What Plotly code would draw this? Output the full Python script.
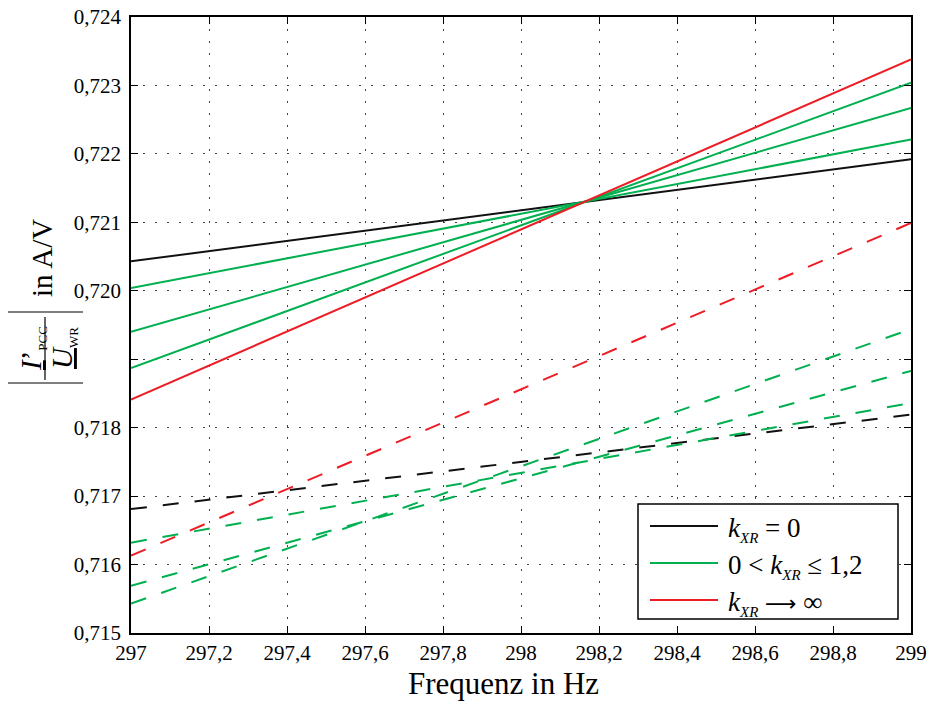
import plotly.graph_objects as go

# Frequency span (Hz)
freq = [297.0, 299.0]

# Solid curves |I'_PCC / U_WR| in A/V at the two span ends
solid_black = [0.72043, 0.72192]
solid_green = [[0.72004, 0.72221], [0.71940, 0.72267], [0.71887, 0.72304]]
solid_red = [0.71841, 0.72338]

# Dashed curves
dash_black = [0.71681, 0.71819]
dash_green = [[0.71632, 0.71836], [0.71569, 0.71883], [0.71543, 0.71944]]
dash_red = [0.71613, 0.72099]

x_ticks = [297.0, 297.2, 297.4, 297.6, 297.8, 298.0, 298.2, 298.4, 298.6, 298.8, 299.0]
x_tick_labels = ["297", "297,2", "297,4", "297,6", "297,8", "298", "298,2", "298,4", "298,6", "298,8", "299"]
y_ticks = [0.715, 0.716, 0.717, 0.718, 0.719, 0.720, 0.721, 0.722, 0.723, 0.724]
y_tick_labels = ["0,715", "0,716", "0,717", "0,718", "", "0,720", "0,721", "0,722", "0,723", "0,724"]

SUB = "<sub><i><span style='font-size:15px'>XR</span></i></sub>"
legend_labels = [
    "<i>k</i>" + SUB + " = 0",
    "0 &lt; <i>k</i>" + SUB + " ≤ 1,2",
    "<i>k</i>" + SUB + " <span style='font-family:DejaVu Sans;font-size:22px'>⟶</span> ∞",
]

BLACK = "#111111"
GREEN = "#00B050"
RED = "#EE1C25"
FONT = "Liberation Serif"
DASH = "16px,16px"

W, H = 933, 704
ML, MR, MT, MB = 131, 22, 17, 71
PW, PH = W - ML - MR, H - MT - MB


def px_x(p):
    return (p - ML) / PW


def px_y(p):
    return (H - MB - p) / PH


fig = go.Figure()


def add_line(y, color, dash=None):
    fig.add_trace(go.Scatter(
        x=freq, y=y, mode="lines", showlegend=False, hoverinfo="skip",
        line=dict(color=color, width=2, dash=dash),
    ))


# dashed family
add_line(dash_black, BLACK, DASH)
for g in dash_green:
    add_line(g, GREEN, DASH)
add_line(dash_red, RED, DASH)

# solid family
add_line(solid_black, BLACK)
for g in solid_green:
    add_line(g, GREEN)
add_line(solid_red, RED)

axis_common = dict(
    automargin=False,
    showline=True, linecolor="black", linewidth=1.5, mirror="allticks",
    ticks="inside", ticklen=7, tickwidth=1.2, tickcolor="black",
    showgrid=True, gridcolor="#444444", gridwidth=1, griddash="2px,10px",
    zeroline=False,
    tickfont=dict(family=FONT, size=21, color="black"),
)

fig.update_xaxes(range=[297, 299], tickvals=x_ticks, ticktext=x_tick_labels, **axis_common)
fig.update_yaxes(range=[0.715, 0.724], tickvals=y_ticks, ticktext=y_tick_labels,
                 ticklabelstandoff=4, **axis_common)

shapes = []
annotations = []

# legend box
shapes.append(dict(type="rect", xref="paper", yref="paper",
                   x0=px_x(638), x1=px_x(898), y0=px_y(619), y1=px_y(504),
                   line=dict(color="black", width=1.5), fillcolor="white", layer="above"))
for row_y, col, lab in zip([526, 563, 600], [BLACK, GREEN, RED], legend_labels):
    shapes.append(dict(type="line", xref="paper", yref="paper",
                       x0=px_x(650), x1=px_x(718), y0=px_y(row_y), y1=px_y(row_y),
                       line=dict(color=col, width=2), layer="above"))
    annotations.append(dict(text=lab, xref="paper", yref="paper", x=px_x(726), y=px_y(row_y + 3),
                            xanchor="left", yanchor="middle", showarrow=False,
                            font=dict(family=FONT, size=27, color="black")))

# x-axis title
annotations.append(dict(text="Frequenz in Hz", xref="paper", yref="paper",
                        x=px_x(503), y=px_y(683), xanchor="center", yanchor="middle",
                        showarrow=False, font=dict(family=FONT, size=31, color="black")))

# y-axis title: |I'_PCC / U_WR| in A/V, rotated
annotations.append(dict(text="in A/V", xref="paper", yref="paper",
                        x=px_x(42), y=px_y(258), xanchor="center", yanchor="middle",
                        textangle=-90, showarrow=False,
                        font=dict(family=FONT, size=29, color="black")))
annotations.append(dict(text="<u><i>I</i></u>’<sub><span style='font-size:13px'>PCC</span></sub>",
                        xref="paper", yref="paper",
                        x=px_x(32), y=px_y(349), xanchor="center", yanchor="middle",
                        textangle=-90, showarrow=False,
                        font=dict(family=FONT, size=29, color="black")))
annotations.append(dict(text="<u><i>U</i></u><sub><span style='font-size:13px'>WR</span></sub>",
                        xref="paper", yref="paper",
                        x=px_x(63), y=px_y(348), xanchor="center", yanchor="middle",
                        textangle=-90, showarrow=False,
                        font=dict(family=FONT, size=29, color="black")))
# fraction bar and absolute-value bars
shapes.append(dict(type="line", xref="paper", yref="paper",
                   x0=px_x(45), x1=px_x(45), y0=px_y(317), y1=px_y(380),
                   line=dict(color="black", width=1.2)))
for by in (312, 383):
    shapes.append(dict(type="line", xref="paper", yref="paper",
                       x0=px_x(8), x1=px_x(83), y0=px_y(by), y1=px_y(by),
                       line=dict(color="black", width=1.2)))

fig.update_layout(
    width=W, height=H,
    margin=dict(l=ML, r=MR, t=MT, b=MB, autoexpand=False),
    plot_bgcolor="white", paper_bgcolor="white",
    showlegend=False,
    shapes=shapes, annotations=annotations,
    font=dict(family=FONT, color="black"),
)

fig.write_html("out.html")
